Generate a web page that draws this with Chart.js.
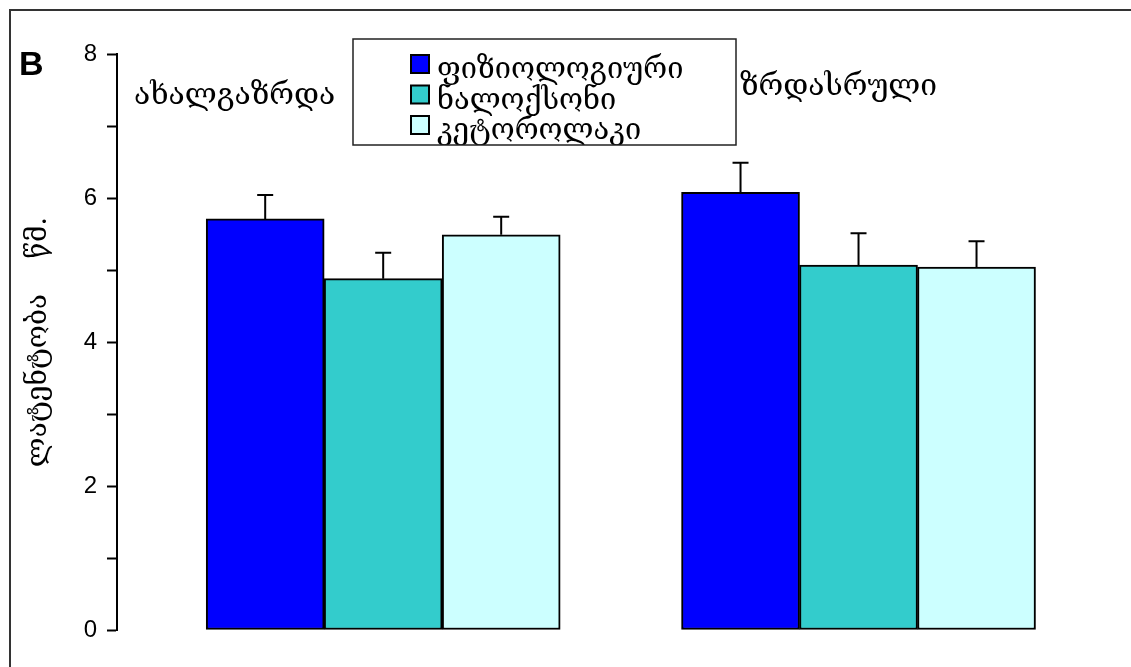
<!DOCTYPE html>
<html>
<head>
<meta charset="utf-8">
<script src="https://cdn.jsdelivr.net/npm/chart.js@4"></script>
<style>
  html, body { margin: 0; padding: 0; background: #fff; overflow: hidden; }
  #wrap { position: relative; width: 1131px; height: 667px; }
  #frame { position: absolute; left: 9px; top: 9px; right: 0; bottom: 0;
           border-top: 2px solid #333; border-left: 2px solid #333; }
  canvas { position: absolute; left: 0; top: 0; }
</style>
</head>
<body>
<div id="wrap">
  <div id="frame"></div>
  <canvas id="chart"></canvas>
</div>
<script>
// data
const groups = ['ახალგაზრდა', 'ზრდასრული'];
const seriesNames = ['ფიზიოლოგიური', 'ნალოქსონი', 'კეტოროლაკი'];
const physiological = [5.71, 6.08];
const naloxone = [4.88, 5.07];
const ketorolac = [5.49, 5.04];
const physiologicalErr = [0.33, 0.41];
const naloxoneErr = [0.36, 0.44];
const ketorolacErr = [0.25, 0.36];
const yTickLabels = ['0', '', '2', '', '4', '', '6', '', '8'];
const yTitle = 'ლატენტობა    წმ.';
const panelLetter = 'B';

const geoFont = "'DejaVu Serif', 'DejaVu Sans', serif";
const colors = ['#0000FF', '#33CCCC', '#CCFFFF'];

function points(vals) {
  return vals.map((v, i) => ({ x: i + 1, y: v }));
}

const errorBars = {
  id: 'errorBars',
  afterDatasetsDraw(chart) {
    const ctx = chart.ctx;
    const y = chart.scales.y;
    ctx.save();
    ctx.strokeStyle = '#000';
    ctx.lineWidth = 2;
    chart.data.datasets.forEach((ds, di) => {
      const meta = chart.getDatasetMeta(di);
      meta.data.forEach((bar, i) => {
        const top = y.getPixelForValue(ds.data[i].y + ds.errors[i]);
        ctx.beginPath();
        ctx.moveTo(bar.x, bar.y);
        ctx.lineTo(bar.x, top);
        ctx.moveTo(bar.x - 8, top);
        ctx.lineTo(bar.x + 8, top);
        ctx.stroke();
      });
    });
    ctx.restore();
  }
};

const decorations = {
  id: 'decorations',
  afterDraw(chart) {
    const ctx = chart.ctx;
    ctx.save();
    // panel letter
    ctx.fillStyle = '#000';
    ctx.font = "bold 34px 'Liberation Sans', Arial, sans-serif";
    ctx.textBaseline = 'alphabetic';
    ctx.textAlign = 'left';
    ctx.fillText(panelLetter, 19, 75);

    // group labels
    ctx.font = '30px ' + geoFont;
    ctx.fillText(groups[0], 134, 104);
    ctx.fillText(groups[1], 740, 95);

    // legend box (third label is cut by the box edge, as in the original)
    const bx = 353, by = 39, bw = 383, bh = 106;
    ctx.fillStyle = '#fff';
    ctx.fillRect(bx, by, bw, bh);
    ctx.save();
    ctx.beginPath();
    ctx.rect(bx, by, bw, bh);
    ctx.clip();
    chart.data.datasets.forEach((ds, i) => {
      const cy = 64 + i * 30.5;
      ctx.fillStyle = ds.backgroundColor;
      ctx.fillRect(411, cy - 9, 18, 18);
      ctx.strokeStyle = '#000';
      ctx.lineWidth = 2;
      ctx.strokeRect(411, cy - 9, 18, 18);
      ctx.fillStyle = '#000';
      ctx.font = '29px ' + geoFont;
      ctx.fillText(ds.label, 437, cy + 14);
    });
    ctx.restore();
    ctx.strokeStyle = '#222';
    ctx.lineWidth = 1.5;
    ctx.strokeRect(bx, by, bw, bh);
    ctx.restore();
  }
};

const datasets = [physiological, naloxone, ketorolac].map((vals, i) => ({
  label: seriesNames[i],
  data: points(vals),
  errors: [physiologicalErr, naloxoneErr, ketorolacErr][i],
  backgroundColor: colors[i],
  borderColor: '#000',
  borderWidth: 2,
  borderSkipped: false,
  barThickness: 118
}));

new Chart(document.getElementById('chart'), {
  type: 'bar',
  data: { datasets },
  options: {
    responsive: true,
    maintainAspectRatio: false,
    animation: false,
    layout: { padding: { left: 0, top: 54, right: 31, bottom: 37 } },
    plugins: {
      legend: { display: false },
      tooltip: { enabled: false }
    },
    scales: {
      x: {
        type: 'linear',
        display: false,
        offset: false,
        min: 0.44,
        max: 2.508
      },
      y: {
        min: 0,
        max: 8,
        afterFit(scale) { scale.width = 117; },
        border: { color: '#000', width: 2 },
        grid: {
          drawOnChartArea: false,
          drawTicks: true,
          tickLength: 10,
          tickColor: '#000',
          tickWidth: 2
        },
        ticks: {
          stepSize: 1,
          autoSkip: false,
          padding: 10,
          color: '#000',
          font: { family: "'Liberation Sans', Arial, sans-serif", size: 24 },
          callback: (v, i) => yTickLabels[i]
        },
        title: {
          display: true,
          text: yTitle,
          color: '#000',
          font: { family: geoFont, size: 28 },
          padding: { top: 22, bottom: 0 }
        }
      }
    }
  },
  plugins: [errorBars, decorations]
});
</script>
</body>
</html>
